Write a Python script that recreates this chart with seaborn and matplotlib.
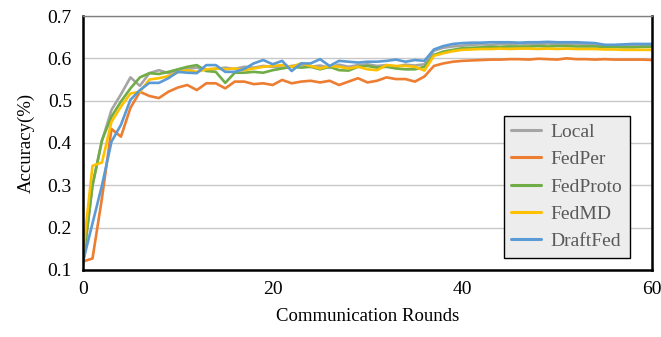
import matplotlib
matplotlib.use('Agg')
import matplotlib.pyplot as plt
import seaborn as sns
import pandas as pd

rounds = list(range(61))

local = [0.110, 0.300, 0.405, 0.478, 0.515, 0.555, 0.535, 0.565, 0.572, 0.565,
         0.570, 0.575, 0.578, 0.572, 0.575, 0.578, 0.575, 0.580, 0.578, 0.582,
         0.580, 0.578, 0.582, 0.585, 0.580, 0.583, 0.578, 0.585, 0.580, 0.584,
         0.586, 0.582, 0.584, 0.580, 0.585, 0.583, 0.586, 0.618, 0.625, 0.628,
         0.630, 0.632, 0.633, 0.632, 0.634, 0.633, 0.635, 0.634, 0.633, 0.635,
         0.634, 0.633, 0.634, 0.632, 0.633, 0.631, 0.630, 0.631, 0.630, 0.631,
         0.630]
fedper = [0.120, 0.127, 0.270, 0.433, 0.415, 0.483, 0.521, 0.511, 0.506, 0.521,
          0.531, 0.537, 0.525, 0.541, 0.541, 0.529, 0.545, 0.545, 0.539, 0.541,
          0.537, 0.549, 0.541, 0.545, 0.547, 0.543, 0.547, 0.537, 0.545, 0.553,
          0.543, 0.547, 0.555, 0.551, 0.551, 0.545, 0.557, 0.582, 0.588, 0.592,
          0.594, 0.595, 0.596, 0.597, 0.597, 0.598, 0.598, 0.597, 0.599, 0.598,
          0.597, 0.600, 0.598, 0.598, 0.597, 0.598, 0.597, 0.597, 0.597, 0.597,
          0.596]
fedproto = [0.120, 0.300, 0.407, 0.462, 0.498, 0.529, 0.555, 0.565, 0.563, 0.568,
            0.574, 0.580, 0.584, 0.570, 0.568, 0.542, 0.566, 0.566, 0.568, 0.566,
            0.572, 0.576, 0.580, 0.578, 0.580, 0.574, 0.580, 0.572, 0.571, 0.580,
            0.582, 0.578, 0.580, 0.576, 0.574, 0.574, 0.580, 0.608, 0.616, 0.620,
            0.624, 0.625, 0.626, 0.627, 0.627, 0.628, 0.628, 0.628, 0.629, 0.628,
            0.629, 0.629, 0.628, 0.628, 0.628, 0.627, 0.627, 0.626, 0.626, 0.627,
            0.627]
fedmd = [0.140, 0.346, 0.354, 0.450, 0.486, 0.517, 0.521, 0.550, 0.553, 0.558,
         0.567, 0.572, 0.568, 0.574, 0.576, 0.574, 0.576, 0.572, 0.576, 0.580,
         0.582, 0.584, 0.580, 0.588, 0.582, 0.576, 0.582, 0.580, 0.576, 0.580,
         0.574, 0.572, 0.584, 0.582, 0.582, 0.580, 0.571, 0.606, 0.612, 0.617,
         0.620, 0.621, 0.622, 0.622, 0.623, 0.622, 0.623, 0.623, 0.622, 0.623,
         0.622, 0.623, 0.622, 0.622, 0.622, 0.621, 0.621, 0.620, 0.620, 0.620,
         0.620]
draftfed = [0.120, 0.210, 0.300, 0.403, 0.443, 0.502, 0.525, 0.542, 0.542, 0.553,
            0.568, 0.566, 0.565, 0.584, 0.584, 0.568, 0.568, 0.575, 0.588, 0.596,
            0.586, 0.594, 0.570, 0.588, 0.588, 0.598, 0.582, 0.594, 0.592, 0.590,
            0.592, 0.592, 0.594, 0.597, 0.592, 0.596, 0.594, 0.621, 0.629, 0.634,
            0.636, 0.637, 0.637, 0.638, 0.638, 0.638, 0.637, 0.638, 0.638, 0.639,
            0.638, 0.638, 0.638, 0.637, 0.636, 0.632, 0.632, 0.633, 0.634, 0.634,
            0.634]

methods = ['Local', 'FedPer', 'FedProto', 'FedMD', 'DraftFed']
series = [local, fedper, fedproto, fedmd, draftfed]
colors = ['#a5a5a5', '#ed7d31', '#70ad47', '#ffc000', '#5b9bd5']

df = pd.concat([pd.DataFrame({'round': rounds, 'acc': s, 'method': m})
                for m, s in zip(methods, series)], ignore_index=True)

sns.set_theme(style='white')
plt.rcParams['font.family'] = ['Liberation Serif', 'DejaVu Serif']

fig = plt.figure(figsize=(6.61, 3.37), dpi=100)
ax = fig.add_axes([0.1256, 0.199, 0.8608, 0.7535])

sns.lineplot(data=df, x='round', y='acc', hue='method', hue_order=methods,
             palette=colors, linewidth=1.9, ax=ax)

ax.set_xlim(0, 60)
ax.set_ylim(0.1, 0.7)
ax.set_xticks([0, 20, 40, 60])
ax.set_yticks([0.1, 0.2, 0.3, 0.4, 0.5, 0.6, 0.7])
ax.set_yticklabels(['0.1', '0.2', '0.3', '0.4', '0.5', '0.6', '0.7'])
ax.yaxis.grid(True, color='#c8c8c8', linewidth=1.0)
ax.set_axisbelow(True)
ax.tick_params(axis='both', labelsize=14, colors='black', length=0, pad=8)

for side in ['left', 'bottom', 'right']:
    ax.spines[side].set_color('black')
    ax.spines[side].set_linewidth(1.8)
ax.spines['top'].set_color('#808080')
ax.spines['top'].set_linewidth(1.0)

ax.set_xlabel('Communication Rounds', fontsize=13.5, color='black', labelpad=7)
ax.set_ylabel('Accuracy(%)', fontsize=13.5, color='black', labelpad=9)

leg = ax.legend(loc='lower right', bbox_to_anchor=(0.961, 0.047), fontsize=14,
                frameon=True, fancybox=False, framealpha=1, facecolor='#ededed',
                edgecolor='black', handlelength=1.5, labelspacing=0.5,
                borderpad=0.4, handletextpad=0.5, borderaxespad=0)
leg.get_frame().set_linewidth(1.0)
for line in leg.get_lines():
    line.set_linewidth(2.2)
for t in leg.get_texts():
    t.set_color('#595959')

fig.savefig('out.png', dpi=100)
